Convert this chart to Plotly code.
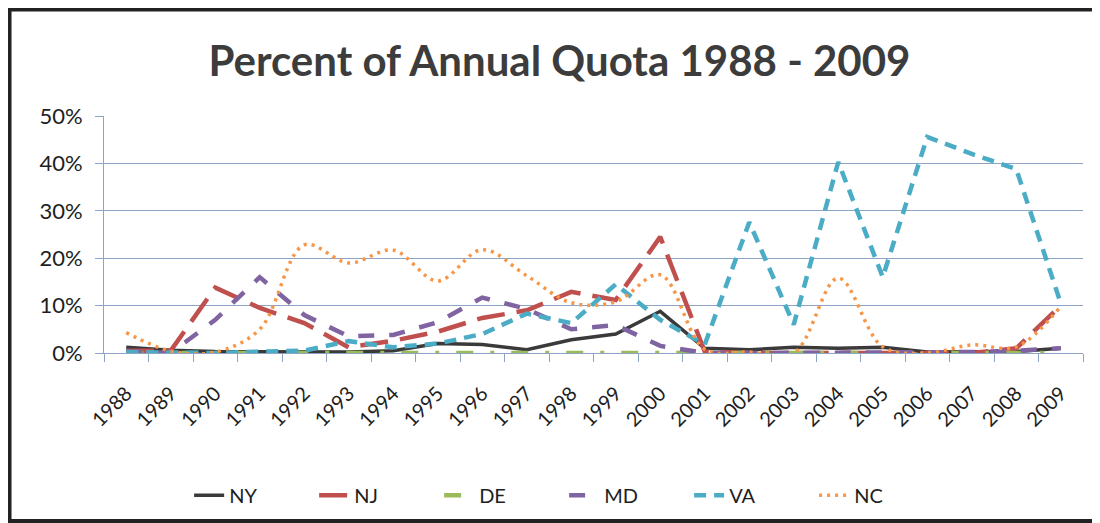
import plotly.graph_objects as go

years = [str(y) for y in range(1988, 2010)]

NY = [1.2, 0.6, 0.3, 0.3, 0.3, 0.2, 0.5, 2.0, 1.8, 0.7, 2.8, 4.0, 8.8, 1.0, 0.7, 1.2, 1.0, 1.2, 0.2, 0.2, 0.3, 1.0]
NJ = [0.5, 0.5, 13.8, 9.5, 6.3, 1.2, 2.6, 4.5, 7.4, 9.0, 12.9, 11.2, 24.5, 0.3, 0.0, 0.0, 0.0, 0.0, 0.0, 0.0, 1.0, 10.0]
DE = [0.0] * 22
MD = [0.3, 0.0, 7.0, 16.0, 8.0, 3.5, 3.8, 6.5, 11.7, 9.3, 5.0, 5.9, 1.5, 0.0, 0.0, 0.0, 0.0, 0.0, 0.0, 0.2, 0.5, 1.0]
VA = [0.2, 0.2, 0.0, 0.3, 0.5, 2.5, 1.2, 2.0, 4.0, 8.3, 6.3, 14.5, 7.0, 1.8, 27.6, 6.0, 40.3, 16.0, 45.6, 42.0, 38.8, 10.5]
NC = [4.3, 0.4, 0.2, 5.0, 22.8, 19.0, 21.7, 15.2, 21.8, 16.3, 10.6, 10.8, 16.5, 0.8, 0.2, 0.0, 15.8, 1.3, 0.0, 1.7, 1.3, 9.8]

series = [
    ("NY", NY, "#3a3a3a", "solid", 3.5, "linear"),
    ("NJ", NJ, "#C0504D", "28px,12px", 4.5, "linear"),
    ("DE", DE, "#9BBB59", "17px,17px,4px,17px", 4.5, "linear"),
    ("MD", MD, "#8064A2", "16px,15px", 4.5, "linear"),
    ("VA", VA, "#4BACC6", "12px,8px", 4.5, "linear"),
    ("NC", NC, "#F79646", "3px,5px", 3.5, "spline"),
]

fig = go.Figure()
for name, vals, color, dash, width, shape in series:
    fig.add_trace(go.Scatter(
        x=years, y=vals, name=name, mode="lines",
        line=dict(color=color, dash=dash, width=width, shape=shape),
    ))

grid = "#8EA4C4"
txt = "#1e1e1e"
fig.update_layout(
    width=1092, height=515,
    paper_bgcolor="white", plot_bgcolor="white",
    margin=dict(l=96, r=17, t=108, b=170, autoexpand=False),
    title=dict(text="<b>Percent of Annual Quota 1988 - 2009</b>",
               x=0.505, xref="container", xanchor="center",
               y=0.897, yref="container", yanchor="middle",
               font=dict(family="Lato, Open Sans, sans-serif", size=42, color="#3c3c3c")),
    font=dict(family="Lato, Open Sans, sans-serif", color=txt),
    legend=dict(orientation="h", x=0.47, xanchor="center", y=-0.6, yanchor="middle",
                font=dict(size=20, color=txt), entrywidth=80,
                bgcolor="rgba(0,0,0,0)"),
    showlegend=True,
    xaxis=dict(type="category", range=[-0.5, 21.5], tickson="boundaries",
               ticks="outside", ticklen=8, tickcolor=grid, showline=True, linecolor=grid,
               linewidth=1, showgrid=False, tickangle=-45, ticklabelstandoff=20,
               layer="below traces",
               tickfont=dict(size=20, color=txt)),
    yaxis=dict(range=[0, 50], dtick=10, ticksuffix="%", showgrid=True, gridcolor=grid,
               gridwidth=1, showline=True, linecolor=grid, ticks="outside", ticklen=8,
               tickcolor=grid, zeroline=False, ticklabelstandoff=8, layer="below traces",
               tickfont=dict(size=22, color=txt)),
    shapes=[dict(type="rect", xref="paper", yref="paper",
                 x0=-0.0965, x1=1.0143, y0=-0.709, y1=1.449,
                 line=dict(color="#222", width=4), layer="below")],
)

fig.write_html("out.html")
